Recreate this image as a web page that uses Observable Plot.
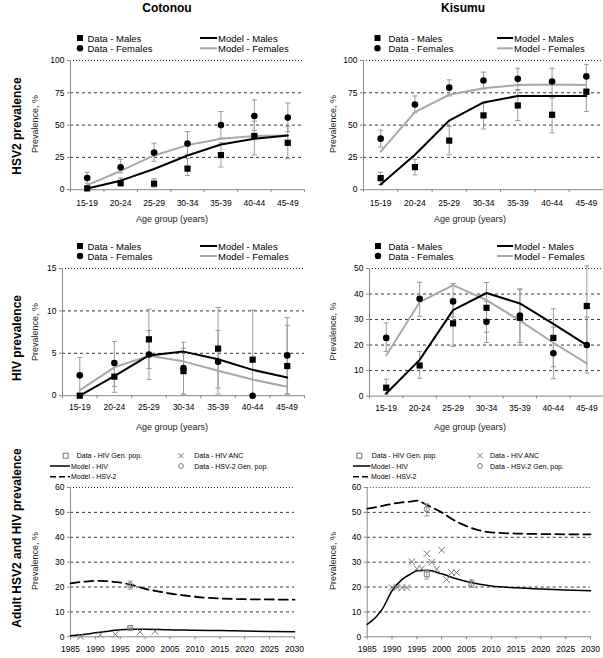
<!DOCTYPE html>
<html><head><meta charset="utf-8">
<script src="https://cdn.jsdelivr.net/npm/d3@7"></script>
<script src="https://cdn.jsdelivr.net/npm/@observablehq/plot@0.6"></script>
<style>
body{margin:0;background:#fff;}
#root{position:relative;width:603px;height:658px;overflow:hidden;background:#fff;}
</style></head><body><div id="root"></div>
<script>
// ---------- data ----------
const ages = ["15-19","20-24","25-29","30-34","35-39","40-44","45-49"];
const ageTicks = [0.5,1,1.5,2,2.5,3,3.5,4,4.5,5,5.5,6,6.5,7,7.5];

// Cotonou HSV-2 prevalence by age
const cotHsvMale   = [1, 5.2, 4.7, 16.3, 26.8, 41.6, 36.3];
const cotHsvMaleLo = [0, 2.5, 2, 11, 17.5, 27, 24];
const cotHsvMaleHi = [3, 9, 8.5, 24, 36.3, 53, 49];
const cotHsvFem    = [9, 17.4, 28.7, 35.7, 50, 57, 55.8];
const cotHsvFemLo  = [5, 13, 22, 27, 40, 46, 45];
const cotHsvFemHi  = [13.5, 23.5, 36, 45, 60.5, 69.5, 67];
const cotHsvMaleModel = [1, 7, 16, 26.5, 35, 39.5, 42];
const cotHsvFemModel  = [3.5, 14.5, 26.5, 34.5, 39.5, 41.5, 42];

// Kisumu HSV-2 prevalence by age
const kisHsvMale   = [9, 17.5, 38, 57.5, 65.2, 58, 75.8];
const kisHsvMaleLo = [4, 11.5, 27, 47, 53.5, 44, 60.5];
const kisHsvMaleHi = [13.5, 23.5, 49, 67, 77, 72, 90];
const kisHsvFem    = [39.5, 66, 79, 84.5, 85.8, 83.8, 87.6];
const kisHsvFemLo  = [33, 59.5, 72.5, 78, 77.5, 71, 78];
const kisHsvFemHi  = [46, 72.5, 85, 91, 94, 94, 97];
const kisHsvMaleModel = [4, 27, 53.5, 67.5, 72.5, 72.5, 72.5];
const kisHsvFemModel  = [29.5, 60, 73.5, 78.5, 81, 81.5, 81];

// Cotonou HIV prevalence by age
const cotHivMale   = [0, 2.25, 6.65, 2.9, 5.55, 4.25, 3.5];
const cotHivMaleLo = [0, 1.1, 3.2, 0.1, 0.9, 0.1, 0.2];
const cotHivMaleHi = [0, 4.1, 7.7, 5.6, 7.7, 10.1, 8.3];
const cotHivFem    = [2.4, 3.85, 4.85, 3.25, 4.0, 0, 4.75];
const cotHivFemLo  = [0.3, 0.4, 1.9, 0.2, 0.2, 0, 0.2];
const cotHivFemHi  = [4.5, 6.4, 10.2, 6.3, 10.4, 0, 9.2];
const cotHivMaleModel = [0, 2.3, 4.75, 5.2, 4.3, 3.05, 2.15];
const cotHivFemModel  = [0.65, 3.35, 4.7, 4.05, 2.95, 1.9, 1.05];

// Kisumu HIV prevalence by age
const kisHivMale   = [3.3, 12, 28.5, 34.6, 30.7, 22.8, 35.3];
const kisHivMaleLo = [0.7, 7, 19.5, 25, 20, 11.5, 19];
const kisHivMaleHi = [6.6, 17.5, 38, 44.5, 41.8, 34.2, 51];
const kisHivFem    = [22.8, 38.1, 37.1, 29.1, 31.6, 16.8, 20];
const kisHivFemLo  = [17.5, 31.3, 31, 21, 21, 6.8, 9];
const kisHivFemHi  = [28.7, 44.6, 44.1, 37, 42, 27, 31];
const kisHivMaleModel = [1, 14.2, 33.7, 40.4, 36.3, 28.3, 20];
const kisHivFemModel  = [15.9, 36.8, 43.5, 37.6, 29.6, 20.9, 12.8];

// Adult prevalence over time (model)
const modelYears = [1985, 1987, 1988, 1990, 1992, 1994, 1995, 1997, 2000, 2003, 2005, 2008, 2010, 2015, 2020, 2025, 2030];
const cotHsvModel = [21.5, 22, 22.2, 22.5, 22.4, 22, 21.8, 21, 19.3, 18.1, 17.4, 16.6, 16.1, 15.4, 15.1, 15, 14.9];
const cotHivModel = [0.4, 0.8, 1.0, 1.6, 2.1, 2.6, 2.8, 3.0, 3.0, 2.9, 2.8, 2.7, 2.6, 2.5, 2.3, 2.1, 2.0];
const kisHsvModel = [51.5, 52.2, 52.6, 53.4, 54, 54.4, 54.7, 53, 50, 46.3, 44.5, 42.6, 42, 41.5, 41.3, 41.2, 41.2];
const kisHivModel = [5, 8.5, 11, 18.5, 23, 25.5, 26.5, 26.7, 25.3, 23.3, 22.2, 21, 20.4, 19.7, 19.2, 18.8, 18.5];
const yearTicks = [1985, 1990, 1995, 2000, 2005, 2010, 2015, 2020, 2025, 2030];

// Adult prevalence data points
const cotGenHivYears = [1997], cotGenHiv = [3.5], cotGenHivLo = [3.1], cotGenHivHi = [3.9];
const cotGenHsvYears = [1997], cotGenHsv = [20.8], cotGenHsvLo = [19.2], cotGenHsvHi = [22.4];
const cotAncYears = [1987, 1991, 1994, 1999, 2002];
const cotAnc      = [0.1, 0.8, 1.0, 2.0, 2.2];
const kisGenHivYears = [1997, 2006], kisGenHiv = [25.1, 21.4], kisGenHivLo = [23.2, 19.8], kisGenHivHi = [26.8, 22.9];
const kisGenHsvYears = [1997], kisGenHsv = [51.3], kisGenHsvLo = [48.6], kisGenHsvHi = [53.4];
const kisAncYears = [1990, 1991, 1992, 1993, 1994, 1995, 1996, 1997, 1998, 1999, 2000, 2001, 2002, 2003];
const kisAnc      = [19.8, 19.8, 19.8, 19.8, 30.2, 27.4, 27.4, 33.4, 30, 27.2, 34.8, 23, 25.8, 25.8];

// ---------- drawing ----------
const FONT = '"Liberation Sans", Arial, Helvetica, sans-serif';
const root = document.getElementById("root");
const ERR = "#9a9a9a";
const FEM = "#a8a8a8";
const cap = {draw(ctx) { ctx.moveTo(-2.6, 0); ctx.lineTo(2.6, 0); }};

function place(svg, left, top) {
  svg.style.position = "absolute";
  svg.style.left = left + "px";
  svg.style.top = top + "px";
  root.append(svg);
}
function gridMarks(yticks) {
  const ymax = yticks[yticks.length - 1];
  return [
    Plot.ruleY(yticks.slice(1, -1), {stroke: "#000", strokeWidth: 0.8, strokeDasharray: "3,3"}),
    Plot.ruleY([ymax], {stroke: "#000", strokeWidth: 0.8, strokeDasharray: "1,2"})
  ];
}
function errMarks(data, x, v, lo, hi) {
  return [
    Plot.ruleX(data, {x, y1: lo, y2: hi, stroke: ERR, strokeWidth: 1}),
    Plot.dot(data, {x, y: hi, symbol: cap, stroke: ERR, fill: "none", strokeWidth: 1}),
    Plot.dot(data, {x, y: lo, symbol: cap, stroke: ERR, fill: "none", strokeWidth: 1})
  ];
}

function agePanel(c) {
  const rows = ages.map((a, k) => ({
    i: k + 1,
    mv: c.m[k], mlo: c.mlo[k], mhi: c.mhi[k],
    fv: c.f[k], flo: c.flo[k], fhi: c.fhi[k],
    mm: c.mm[k], fm: c.fm[k]
  }));
  const top = c.yTop - 20;
  const height = Math.round(c.y0 - top + 30);
  const mb = top + height - c.y0;
  const ymax = c.yticks[c.yticks.length - 1];
  const svg = Plot.plot({
    width: c.w, height,
    marginLeft: c.x0 - c.left, marginRight: c.left + c.w - c.x1,
    marginTop: 20, marginBottom: mb,
    x: {domain: [0.5, 7.5]},
    y: {domain: [0, ymax]},
    style: {background: "transparent", fontFamily: FONT, fontSize: "8.5px", color: "#000", overflow: "visible"},
    marks: [
      ...gridMarks(c.yticks),
      Plot.ruleY([0], {stroke: "#888"}),
      Plot.ruleX([0.5], {stroke: "#888"}),
      Plot.axisY({ticks: c.yticks, tickSize: 3, tickPadding: 3, label: null, stroke: "#888"}),
      Plot.axisX({ticks: ageTicks.filter(t => t % 1 !== 0), tickSize: 3, tickFormat: () => "", label: null, stroke: "#888"}),
      Plot.axisX({ticks: ageTicks.filter(t => t % 1 === 0), tickSize: 0, tickPadding: c.pad, tickFormat: i => ages[i - 1], label: null}),
      ...errMarks(rows, "i", "fv", "flo", "fhi"),
      ...errMarks(rows, "i", "mv", "mlo", "mhi"),
      Plot.line(rows, {x: "i", y: "fm", stroke: FEM, strokeWidth: 2}),
      Plot.line(rows, {x: "i", y: "mm", stroke: "#000", strokeWidth: 2}),
      Plot.dot(rows, {x: "i", y: "fv", symbol: "circle", fill: "#000", r: 3.3}),
      Plot.dot(rows, {x: "i", y: "mv", symbol: "square", fill: "#000", r: 3.5})
    ]
  });
  place(svg, c.left, top);
}

function yearPanel(c) {
  const model = modelYears.map((y, k) => ({year: y, hsv: c.hsv[k], hiv: c.hiv[k]}));
  const genHiv = c.ghY.map((y, k) => ({year: y, v: c.gh[k], lo: c.ghLo[k], hi: c.ghHi[k]}));
  const genHsv = c.gsY.map((y, k) => ({year: y, v: c.gs[k], lo: c.gsLo[k], hi: c.gsHi[k]}));
  const anc = c.aY.map((y, k) => ({year: y, v: c.a[k]}));
  const top = c.yTop - 20;
  const height = 658 - top;
  const mb = top + height - c.y0;
  const svg = Plot.plot({
    width: c.w, height,
    marginLeft: c.x0 - c.left, marginRight: c.left + c.w - c.x1,
    marginTop: 20, marginBottom: mb,
    x: {domain: [1985, 2030]},
    y: {domain: [0, 60]},
    style: {background: "transparent", fontFamily: FONT, fontSize: "8.5px", color: "#000", overflow: "visible"},
    marks: [
      ...gridMarks([0, 10, 20, 30, 40, 50, 60]),
      Plot.ruleY([0], {stroke: "#888"}),
      Plot.ruleX([1985], {stroke: "#888"}),
      Plot.axisY({ticks: [0, 10, 20, 30, 40, 50, 60], tickSize: 3, tickPadding: 3, label: null, stroke: "#888"}),
      Plot.axisX({ticks: yearTicks, tickSize: 3, tickPadding: 6, tickFormat: d => String(d), label: null, stroke: "#888"}),
      Plot.line(model, {x: "year", y: "hsv", stroke: "#000", strokeWidth: 1.8, strokeDasharray: "9,5", curve: "monotone-x"}),
      Plot.line(model, {x: "year", y: "hiv", stroke: "#000", strokeWidth: 1.5, curve: "monotone-x"}),
      ...errMarks(genHsv, "year", "v", "lo", "hi"),
      ...errMarks(genHiv, "year", "v", "lo", "hi"),
      Plot.dot(anc, {x: "year", y: "v", symbol: "times", stroke: "#777", strokeWidth: 1, r: 3}),
      Plot.dot(genHsv, {x: "year", y: "v", symbol: "circle", stroke: "#777", fill: "none", strokeWidth: 1, r: 2.6}),
      Plot.dot(genHiv, {x: "year", y: "v", symbol: "square", stroke: "#777", fill: "none", strokeWidth: 1, r: 2.8})
    ]
  });
  place(svg, c.left, top);
}

agePanel({left: 0, w: 304, x0: 70, x1: 304, yTop: 59.5, y0: 188.7, yticks: [0, 25, 50, 75, 100], pad: 10,
  m: cotHsvMale, mlo: cotHsvMaleLo, mhi: cotHsvMaleHi, f: cotHsvFem, flo: cotHsvFemLo, fhi: cotHsvFemHi, mm: cotHsvMaleModel, fm: cotHsvFemModel});
agePanel({left: 300, w: 303, x0: 363, x1: 603, yTop: 59.5, y0: 188.7, yticks: [0, 25, 50, 75, 100], pad: 10,
  m: kisHsvMale, mlo: kisHsvMaleLo, mhi: kisHsvMaleHi, f: kisHsvFem, flo: kisHsvFemLo, fhi: kisHsvFemHi, mm: kisHsvMaleModel, fm: kisHsvFemModel});
agePanel({left: 0, w: 304, x0: 62, x1: 304, yTop: 268.3, y0: 395.5, yticks: [0, 5, 10, 15], pad: 8.5,
  m: cotHivMale, mlo: cotHivMaleLo, mhi: cotHivMaleHi, f: cotHivFem, flo: cotHivFemLo, fhi: cotHivFemHi, mm: cotHivMaleModel, fm: cotHivFemModel});
agePanel({left: 300, w: 303, x0: 369, x1: 603, yTop: 267.7, y0: 395.3, yticks: [0, 10, 20, 30, 40, 50], pad: 9,
  m: kisHivMale, mlo: kisHivMaleLo, mhi: kisHivMaleHi, f: kisHivFem, flo: kisHivFemLo, fhi: kisHivFemHi, mm: kisHivMaleModel, fm: kisHivFemModel});
yearPanel({left: 0, w: 303, x0: 70, x1: 294, yTop: 486.7, y0: 636,
  hsv: cotHsvModel, hiv: cotHivModel, ghY: cotGenHivYears, gh: cotGenHiv, ghLo: cotGenHivLo, ghHi: cotGenHivHi,
  gsY: cotGenHsvYears, gs: cotGenHsv, gsLo: cotGenHsvLo, gsHi: cotGenHsvHi, aY: cotAncYears, a: cotAnc});
yearPanel({left: 300, w: 303, x0: 366.7, x1: 590, yTop: 486.7, y0: 636,
  hsv: kisHsvModel, hiv: kisHivModel, ghY: kisGenHivYears, gh: kisGenHiv, ghLo: kisGenHivLo, ghHi: kisGenHivHi,
  gsY: kisGenHsvYears, gs: kisGenHsv, gsLo: kisGenHsvLo, gsHi: kisGenHsvHi, aY: kisAncYears, a: kisAnc});

// ---------- annotations overlay ----------
const ov = d3.select(root).append("svg")
  .attr("width", 603).attr("height", 658)
  .style("position", "absolute").style("left", "0px").style("top", "0px")
  .style("font-family", FONT).style("pointer-events", "none");

function label(str, x, y, o = {}) {
  ov.append("text")
    .attr("transform", `translate(${x},${y}) rotate(${o.rotate || 0})`)
    .attr("text-anchor", o.anchor || "middle")
    .attr("dominant-baseline", "central")
    .attr("font-size", o.size || 9)
    .attr("font-weight", o.bold ? "bold" : null)
    .attr("fill", o.fill || "#000")
    .text(str);
}
// column titles
label("Cotonou", 167, 8, {size: 12, bold: true});
label("Kisumu", 463, 8, {size: 12, bold: true});
// row titles
label("HSV2 prevalence", 17, 126, {size: 12, bold: true, rotate: -90});
label("HIV prevalence", 17, 338, {size: 12, bold: true, rotate: -90});
label("Adult HSV2 and HIV prevalence", 17, 538, {size: 12, bold: true, rotate: -90});
// axis titles
for (const [x, y] of [[35, 124], [333, 124], [35, 332], [333, 331.5], [35, 561], [333, 561]]) {
  label("Prevalence, %", x, y, {size: 9, rotate: -90, fill: "#222"});
}
for (const [x, y] of [[172, 219], [470, 219], [172, 427], [470, 427]]) {
  label("Age group (years)", x, y, {size: 9, fill: "#222"});
}

// legends
function sym(kind, x, y) {
  if (kind === "square") ov.append("rect").attr("x", x - 3).attr("y", y - 3).attr("width", 6).attr("height", 6).attr("fill", "#000");
  if (kind === "circle") ov.append("circle").attr("cx", x).attr("cy", y).attr("r", 3.2).attr("fill", "#000");
  if (kind === "osquare") ov.append("rect").attr("x", x - 2.5).attr("y", y - 2.5).attr("width", 5).attr("height", 5).attr("fill", "none").attr("stroke", "#777");
  if (kind === "ocircle") ov.append("circle").attr("cx", x).attr("cy", y).attr("r", 2.4).attr("fill", "none").attr("stroke", "#777");
  if (kind === "times") ov.append("path").attr("d", `M${x-2.6},${y-2.6}L${x+2.6},${y+2.6}M${x-2.6},${y+2.6}L${x+2.6},${y-2.6}`).attr("stroke", "#777");
}
function seg(x1, x2, y, color, width, dash) {
  ov.append("line").attr("x1", x1).attr("x2", x2).attr("y1", y).attr("y2", y)
    .attr("stroke", color).attr("stroke-width", width).attr("stroke-dasharray", dash || null);
}
function ageLegend(sx, tx, lx1, lx2, ltx, y1, y2) {
  sym("square", sx, y1); label("Data - Males", tx, y1, {anchor: "start", size: 9.5});
  sym("circle", sx, y2); label("Data - Females", tx, y2, {anchor: "start", size: 9.5});
  seg(lx1, lx2, y1, "#000", 2); label("Model - Males", ltx, y1, {anchor: "start", size: 9.5});
  seg(lx1, lx2, y2, FEM, 2); label("Model - Females", ltx, y2, {anchor: "start", size: 9.5});
}
ageLegend(80, 87.5, 200, 217, 218, 38, 48.3);
ageLegend(377.5, 388.5, 497, 513, 514, 38, 48.3);
ageLegend(80, 87.5, 200, 217, 218, 246, 256);
ageLegend(378, 388.5, 497, 513, 514, 246, 256);

function adultLegend(sqx, sqt, l1, l2, lt, xx, xt) {
  const y1 = 455.7, y2 = 466, y3 = 476.7;
  sym("osquare", sqx, y1); label("Data - HIV Gen. pop.", sqt, y1, {anchor: "start", size: 7});
  seg(l1, l2, y2, "#000", 1.5); label("Model - HIV", lt, y2, {anchor: "start", size: 7});
  seg(l1, l2, y3, "#000", 1.6, "6,3"); label("Model - HSV-2", lt, y3, {anchor: "start", size: 7});
  sym("times", xx, y1); label("Data - HIV ANC", xt, y1, {anchor: "start", size: 7});
  sym("ocircle", xx, y2); label("Data - HSV-2 Gen. pop.", xt, y2, {anchor: "start", size: 7});
}
adultLegend(65.7, 76.7, 50, 70, 71, 181, 194.3);
adultLegend(359.3, 371.7, 353, 370.5, 371, 480, 490);
</script>
</body></html>
